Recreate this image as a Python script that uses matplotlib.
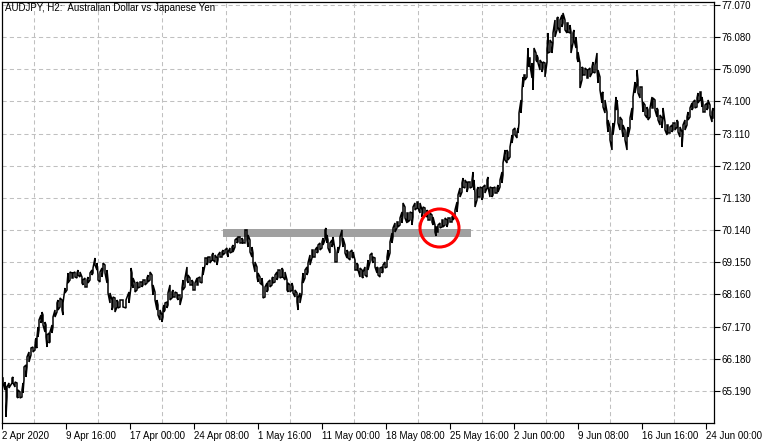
import matplotlib
matplotlib.use("Agg")
import matplotlib.pyplot as plt
from matplotlib.patches import Ellipse, Rectangle

bar_x = [
    3, 5, 6, 7, 9, 12, 13, 15, 17, 18, 20, 22, 23, 24, 26, 27, 29, 31, 33, 35,
    36, 37, 38, 39, 41, 42, 43, 45, 46, 47, 49, 50, 52, 53, 55, 57, 58, 60, 62, 63,
    65, 67, 68, 70, 72, 73, 75, 77, 78, 80, 82, 83, 85, 87, 88, 90, 92, 93, 95, 97,
    98, 100, 102, 103, 105, 107, 108, 110, 112, 113, 115, 117, 118, 120, 123,
    126, 129, 131, 132, 133, 135, 137, 138, 140, 142, 143, 145, 147, 148, 150, 152,
    153, 155, 157, 158, 160, 162, 163, 164, 165, 167, 168, 170, 172, 173, 175, 177,
    178, 180, 182, 183, 185, 187, 188, 190, 192, 193, 195, 197, 198, 200, 202, 203,
    205, 207, 208, 210, 212, 213, 215, 217, 218, 220, 222, 223, 225, 227, 228, 230,
    232, 233, 235, 237, 238, 240, 242, 243,
    245, 247, 248, 250, 252, 253, 255, 257, 258, 260, 262, 263, 265, 267, 268, 270,
    272, 273, 275, 277, 278, 280, 282, 283, 285, 287, 288, 290, 292, 293, 295, 297,
    298, 300, 302, 303, 305, 307, 308, 310, 312, 313, 315, 317, 318, 320, 322, 323,
    325, 326, 327, 328, 330, 332, 333, 335, 337, 338, 340, 342, 343, 345, 347, 348,
    350, 352, 353, 355, 357, 358, 360,
    362, 363, 365, 367, 368, 370, 372, 373, 375, 377, 378, 380, 382, 383, 385, 387,
    388, 390, 392, 393, 395, 397, 398, 400, 402, 403, 405, 407, 408, 410, 412, 413,
    415, 417, 418, 420, 422, 423, 425, 427, 428, 430, 432, 433, 435, 436, 437, 438,
    440, 442, 443, 445, 447, 448, 450, 452, 453, 455, 457, 458, 460, 462, 463, 465,
    467, 468, 470, 472, 473, 474, 475, 477, 478,
    480, 482, 483, 485, 487, 488, 490, 492, 493, 495, 497, 498, 500, 502, 503, 505,
    507, 508, 510, 512, 513, 515, 517, 518, 519, 521, 522, 523, 524, 525, 527, 528,
    529, 530, 532, 533, 534, 536, 537, 538, 540, 542, 543, 545, 547, 548, 550, 552,
    553, 555, 557, 558, 560, 562, 563, 565, 567, 568, 570, 571, 573, 574, 576, 577,
    578, 580, 582, 583, 585, 587, 588, 590, 592, 593, 595, 597, 598, 600, 602, 603,
    605, 607, 608, 610, 612, 613, 615, 616, 617, 618, 620, 622, 623, 625, 627, 628,
    630, 632, 633, 635, 637, 638, 640, 642, 643, 645, 647, 648, 650, 652, 653, 655,
    657, 658, 660, 662, 663, 665, 667, 668, 670, 672, 673, 675, 677, 678, 680, 682,
    683, 685, 687, 688, 690, 692, 693, 695, 697, 698, 700, 701, 702, 703, 705, 707,
    708, 710, 712, 713,
]

bar_high = [
    65.590, 65.466, 65.220, 65.313, 65.436, 65.590, 65.620, 65.466, 65.436, 65.220,
    65.158, 65.220, 65.436, 65.928, 65.989, 66.236, 66.389, 66.513, 66.543, 66.605,
    66.820, 66.851, 67.159, 67.374, 67.528, 67.620, 67.528, 67.313, 67.220, 66.913,
    66.974, 67.005, 67.220, 67.466, 67.682, 67.898, 67.990, 68.052, 67.990, 67.898,
    68.360, 68.452, 68.821, 68.852, 68.821, 68.821, 68.852, 68.821, 68.913, 68.852,
    68.698, 68.606, 68.667, 68.606, 68.698, 68.821, 68.913, 68.975, 69.283, 69.129,
    68.759, 68.852, 68.975, 69.129, 69.067, 68.913, 68.606, 68.206, 67.990, 68.082,
    68.052, 67.990, 67.928, 67.990, 67.990,
    67.990, 68.236, 68.975, 68.821, 68.667, 68.514, 68.544, 68.514, 68.544, 68.544,
    68.606, 68.606, 68.667, 68.759, 68.852, 68.759, 68.452, 68.236, 67.990, 67.836,
    67.682, 67.528, 67.744, 67.836, 67.898, 67.928, 68.206, 68.452, 68.236, 68.298,
    68.236, 68.206, 68.144, 68.144, 68.360, 68.606, 68.667, 69.006, 68.759, 68.667,
    68.606, 68.544, 68.514, 68.667, 68.667, 68.698, 68.667, 69.006, 69.283, 69.283,
    69.313, 69.313, 69.375, 69.437, 69.375, 69.283, 69.375, 69.467, 69.467, 69.529,
    69.529, 69.591, 69.467, 69.591, 69.621, 69.683, 69.837, 69.899, 69.930, 69.930,
    69.899, 69.837,
    70.145, 70.145, 69.991, 69.837, 69.621, 69.437, 69.160, 69.006, 68.821, 68.698,
    68.667, 68.391, 68.391, 68.514, 68.544, 68.606, 68.667, 68.698, 68.759, 68.852,
    68.913, 68.913, 68.975, 68.913, 68.852, 68.606, 68.514, 68.452, 68.514, 68.391,
    68.298, 68.206, 68.052, 68.206, 68.514, 68.821, 68.913, 69.006, 69.129, 69.375,
    69.529, 69.529, 69.529, 69.621, 69.683, 69.745, 69.776, 69.899, 70.145, 70.206,
    69.991, 69.837, 69.745, 69.837, 69.930, 69.529, 69.437, 69.621, 69.930, 70.145,
    69.899, 69.683, 69.529, 69.467, 69.467, 69.529, 69.467, 69.221, 69.129, 69.067,
    68.975,
    68.913, 68.852, 69.006, 68.975, 69.221, 69.375, 69.437, 69.313, 69.283, 69.006,
    68.975, 68.975, 69.006, 69.067, 69.160, 69.313, 69.529, 69.776, 70.052, 70.206,
    70.360, 70.391, 70.391, 70.514, 70.699, 70.976, 70.853, 70.668, 70.668, 70.699,
    70.668, 70.853, 70.976, 71.006, 71.006, 70.976, 70.760, 70.853, 70.822, 70.760,
    70.699, 70.668, 70.606, 70.545, 70.298, 70.237, 70.237, 70.298, 70.360, 70.452,
    70.452, 70.514, 70.452, 70.514, 70.514, 70.545, 70.606, 70.760, 71.006, 71.222,
    71.437, 71.591, 71.745, 71.684, 71.591, 71.622, 71.622, 71.684, 71.930, 71.684,
    71.283, 71.376, 71.468,
    71.468, 71.437, 71.468, 71.530, 71.684, 71.776, 71.468, 71.437, 71.437, 71.468,
    71.437, 71.530, 71.684, 71.930, 72.207, 72.607, 72.607, 72.545, 72.699, 73.069,
    73.223, 73.284, 73.161, 73.284, 73.746, 74.146, 74.454, 74.854, 74.916, 74.916,
    75.069, 75.746, 75.439, 75.439, 75.285, 74.916, 75.746, 75.592, 75.531, 75.439,
    75.377, 75.285, 75.315, 75.285, 75.685, 76.208, 75.993, 75.900, 76.208, 76.608,
    76.670, 76.700, 76.608, 76.762, 76.824, 76.608, 76.516, 76.516, 76.454, 76.239,
    76.208, 76.301, 76.085, 75.777, 75.623, 75.285, 75.162, 75.131, 75.131, 75.069,
    75.069, 75.131, 75.162, 75.315, 75.223, 75.592, 75.069, 74.854, 74.362, 74.392,
    74.146, 73.777, 73.530, 73.315, 73.130, 73.438, 73.900, 74.239, 74.146, 73.838,
    73.623, 73.530, 73.376, 73.223, 73.130, 73.315, 73.592, 73.900, 74.239, 74.700,
    75.069, 74.762, 74.546, 74.546, 74.085, 73.992, 73.931, 73.838, 73.900, 74.239,
    74.208, 74.146, 73.900, 73.838, 73.684, 73.592, 73.900, 73.469, 73.376, 73.376,
    73.315, 73.376, 73.438, 73.438, 73.530, 73.469, 73.315, 73.161, 73.376, 73.530,
    73.623, 73.777, 73.900, 74.054, 74.085, 74.146, 74.208, 74.362, 74.392, 74.392,
    74.239, 74.054, 73.992, 74.054, 74.146, 73.992, 73.777, 73.900,
]

bar_low = [
    65.436, 65.220, 64.389, 65.005, 65.282, 65.436, 65.436, 65.313, 65.005, 64.974,
    64.974, 65.005, 65.128, 65.528, 65.620, 65.928, 66.082, 66.297, 66.389, 66.451,
    66.543, 66.513, 66.851, 67.067, 67.282, 67.374, 67.220, 67.005, 66.851, 66.543,
    66.667, 66.697, 66.974, 67.159, 67.466, 67.620, 67.682, 67.775, 67.682, 67.528,
    68.206, 68.298, 68.514, 68.606, 68.667, 68.667, 68.698, 68.667, 68.759, 68.698,
    68.514, 68.452, 68.391, 68.391, 68.514, 68.606, 68.759, 68.821, 69.067, 68.913,
    68.606, 68.544, 68.698, 68.913, 68.821, 68.514, 68.206, 67.898, 67.682, 67.775,
    67.620, 67.775, 67.744, 67.775, 67.775,
    67.744, 67.898, 68.391, 68.514, 68.360, 68.236, 68.298, 68.360, 68.391, 68.391,
    68.452, 68.452, 68.514, 68.544, 68.606, 68.452, 68.144, 67.990, 67.682, 67.528,
    67.374, 67.313, 67.466, 67.620, 67.682, 67.744, 67.836, 67.990, 68.052, 68.082,
    68.082, 68.052, 67.990, 67.836, 68.082, 68.298, 68.391, 68.606, 68.514, 68.452,
    68.452, 68.298, 68.298, 68.452, 68.452, 68.544, 68.514, 68.759, 69.067, 69.067,
    69.160, 69.129, 69.221, 69.221, 69.160, 69.067, 69.221, 69.313, 69.313, 69.375,
    69.437, 69.437, 69.313, 69.437, 69.467, 69.467, 69.621, 69.745, 69.776, 69.745,
    69.745, 69.745,
    69.745, 69.837, 69.621, 69.467, 69.313, 69.129, 68.852, 68.698, 68.544, 68.514,
    68.452, 68.052, 68.082, 68.236, 68.298, 68.391, 68.452, 68.514, 68.544, 68.606,
    68.698, 68.667, 68.698, 68.698, 68.606, 68.298, 68.236, 68.236, 68.298, 68.206,
    68.082, 67.928, 67.682, 67.898, 68.206, 68.514, 68.667, 68.759, 68.852, 69.067,
    69.283, 69.313, 69.313, 69.437, 69.467, 69.529, 69.591, 69.683, 69.837, 70.052,
    69.745, 69.591, 69.437, 69.621, 69.745, 69.160, 69.160, 69.437, 69.683, 69.837,
    69.621, 69.437, 69.283, 69.283, 69.221, 69.313, 69.283, 68.913, 68.913, 68.913,
    68.698,
    68.698, 68.667, 68.759, 68.698, 68.913, 69.160, 69.221, 69.129, 69.006, 68.821,
    68.759, 68.698, 68.821, 68.852, 68.975, 69.006, 69.221, 69.437, 69.745, 69.930,
    70.083, 70.206, 70.237, 70.298, 70.360, 70.606, 70.514, 70.360, 70.391, 70.452,
    70.298, 70.545, 70.760, 70.822, 70.822, 70.668, 70.545, 70.668, 70.606, 70.545,
    70.452, 70.452, 70.391, 70.298, 70.083, 69.960, 70.083, 70.083, 70.206, 70.237,
    70.237, 70.298, 70.237, 70.360, 70.391, 70.391, 70.452, 70.545, 70.699, 70.976,
    71.160, 71.314, 71.468, 71.437, 71.314, 71.437, 71.437, 71.468, 71.684, 71.376,
    70.853, 71.068, 71.160,
    71.160, 71.068, 71.160, 71.283, 71.437, 71.468, 71.160, 71.160, 71.222, 71.283,
    71.283, 71.314, 71.468, 71.591, 71.838, 72.299, 72.207, 72.299, 72.391, 72.822,
    73.007, 73.069, 72.977, 73.130, 73.438, 73.746, 74.146, 74.546, 74.762, 74.762,
    74.854, 75.315, 75.162, 75.223, 74.823, 74.454, 75.469, 75.377, 75.315, 75.285,
    75.069, 75.008, 75.131, 74.854, 75.315, 75.592, 75.623, 75.592, 75.900, 76.085,
    76.301, 76.393, 76.208, 76.393, 76.516, 76.301, 76.208, 76.239, 76.208, 75.592,
    75.900, 75.993, 75.746, 75.439, 75.315, 74.515, 74.762, 74.916, 74.916, 74.823,
    74.823, 74.854, 74.977, 75.008, 74.977, 75.069, 74.669, 74.454, 74.054, 73.931,
    73.746, 73.438, 73.161, 72.915, 72.607, 73.069, 73.530, 73.838, 73.900, 73.438,
    73.223, 73.223, 73.007, 72.915, 72.607, 73.007, 73.284, 73.530, 73.900, 74.362,
    74.669, 74.362, 74.208, 74.208, 73.777, 73.684, 73.592, 73.530, 73.623, 73.900,
    73.900, 73.838, 73.623, 73.530, 73.376, 73.284, 73.592, 73.223, 73.069, 73.130,
    73.130, 73.161, 73.223, 73.223, 73.315, 73.161, 73.007, 72.699, 73.130, 73.223,
    73.376, 73.530, 73.623, 73.838, 73.900, 73.900, 73.931, 74.054, 74.146, 74.208,
    73.931, 73.777, 73.777, 73.838, 73.900, 73.684, 73.469, 73.592,
]

price_ticks = [65.190, 66.180, 67.170, 68.160, 69.150, 70.140, 71.130,
               72.120, 73.110, 74.100, 75.090, 76.080, 77.070]
time_labels = ["2 Apr 2020", "9 Apr 16:00", "17 Apr 00:00", "24 Apr 08:00",
               "1 May 16:00", "11 May 00:00", "18 May 08:00", "25 May 16:00",
               "2 Jun 00:00", "9 Jun 08:00", "16 Jun 16:00", "24 Jun 00:00"]

# support zone and the marked retest
zone_start, zone_end = 223, 471
zone_low, zone_high = 69.94, 70.18
mark_x, mark_price = 439.5, 70.206

W, H = 762, 443
plt.rcParams["font.family"] = ["Liberation Sans", "DejaVu Sans"]
fig = plt.figure(figsize=(W / 100, H / 100), dpi=100)
fig.patch.set_facecolor("white")
ax = fig.add_axes([2 / W, 20 / H, 712 / W, 421 / H])

# zig-zag path through each bar's high/low so it reads as a dense bar chart
px, py = [], []
for i, (x, hi, lo) in enumerate(zip(bar_x, bar_high, bar_low)):
    px += [x, x]
    py += [hi, lo] if i % 2 == 0 else [lo, hi]
ax.plot(px, py, color="black", lw=1.1, zorder=3, solid_joinstyle="miter")

ax.add_patch(Rectangle((zone_start, zone_low), zone_end - zone_start,
                       zone_high - zone_low, facecolor="#a0a0a0",
                       edgecolor="none", zorder=2))
ax.add_patch(Ellipse((mark_x, mark_price), 39, 1.17, fill=False,
                     edgecolor="#ff0000", lw=2.2, zorder=4))

ax.set_xlim(2, 714)
ax.set_ylim(64.204, 77.162)

ax.yaxis.tick_right()
ax.set_yticks(price_ticks, [f"{p:.3f}" for p in price_ticks])
ax.set_xticks([2 + 64 * i for i in range(len(time_labels))], time_labels)
for lbl in ax.get_xticklabels():
    lbl.set_horizontalalignment("left")
ax.set_xticks([2 + 32 * i for i in range(1, 23)], minor=True)

ax.tick_params(axis="both", which="major", length=4, width=0.8,
               color="black", labelsize=7, pad=1.5)
ax.tick_params(axis="x", which="minor", length=0)
ax.grid(True, which="minor", axis="x", color="#c0c0c0", lw=0.75,
        linestyle=(0, (4, 3)), zorder=0)
ax.grid(True, which="major", axis="y", color="#c0c0c0", lw=0.75,
        linestyle=(0, (4, 3)), zorder=0)
ax.set_axisbelow(True)
for s in ax.spines.values():
    s.set_color("black")
    s.set_linewidth(0.9)

fig.text(5 / W, 1 - 8 / H, "AUDJPY, H2:  Australian Dollar vs Japanese Yen",
         fontsize=7, va="center", ha="left")

fig.savefig("out.png", dpi=100)
